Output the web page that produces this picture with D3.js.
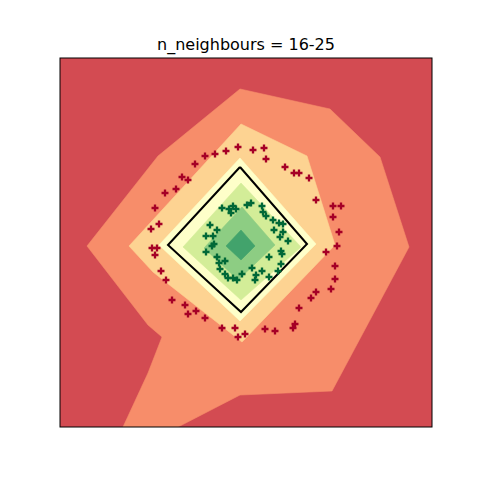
<!DOCTYPE html>
<html>
<head>
<meta charset="utf-8">
<script src="https://cdn.jsdelivr.net/npm/d3@7"></script>
<style>
  html, body { margin: 0; padding: 0; background: #ffffff; }
  svg { display: block; }
</style>
</head>
<body>
<div id="chart"></div>
<script>
// ---------------- data ----------------
const title = "n_neighbours = 16-25";

// filled contour levels (outer to inner), polygon vertices in data units
const levelColors = ["#d34b52", "#f78d6a", "#fdd392", "#feffc9", "#d3ed98", "#8dcd83", "#42a36c"];
const level1 = [[-1.53,-0.02],[-0.82,0.88],[0.00,1.55],[0.90,1.35],[1.40,0.87],[1.69,-0.03],
                [0.92,-1.47],[0.00,-1.51],[-0.62,-1.83],[-1.17,-1.83],[-0.92,-1.29],[-0.78,-0.93],[-0.92,-0.81]];
const level2 = [[-1.11,-0.02],[0.01,1.20],[0.67,0.88],[0.95,-0.01],[0.02,-0.98],[-0.87,-0.28]];
const level3 = [[0.00,0.86],[0.76,0.00],[0.00,-0.77],[-0.81,-0.01]];
const level4 = [[0.01,0.61],[0.61,-0.03],[0.01,-0.56],[-0.57,-0.03]];
const level5 = [[0.02,0.37],[0.35,-0.01],[-0.02,-0.36],[-0.36,-0.04]];
const level6 = [[0.01,0.14],[0.15,-0.02],[0.01,-0.16],[-0.14,-0.02]];
const levels = [level1, level2, level3, level4, level5, level6];

// decision boundary (black line)
const boundary = [[0.00,0.77],[0.67,0.00],[0.01,-0.68],[-0.72,-0.01],[0.00,0.77]];

// class 0 points (red)
const redX = [-0.02,-0.14,-0.25,-0.35,-0.45,-0.58,-0.52,-0.64,-0.75,-0.85,-0.81,-0.89,-0.88,-0.83,-0.85,-0.79,-0.74,-0.68,-0.55,-0.52,
              -0.44,-0.35,-0.18,-0.05,-0.02,0.05,0.25,0.35,0.53,0.55,0.59,0.71,0.76,0.91,0.95,0.95,0.86,0.97,0.99,0.93,
              0.93,1.01,0.76,0.69,0.54,0.59,0.45,0.26,0.24,0.13];
const redY = [0.97,0.93,0.90,0.88,0.80,0.67,0.64,0.55,0.51,0.36,0.20,0.15,-0.04,-0.04,-0.11,-0.27,-0.36,-0.56,-0.61,-0.70,
              -0.67,-0.74,-0.84,-0.84,-0.93,-0.90,-0.85,-0.87,-0.84,-0.80,-0.64,-0.54,-0.48,-0.45,-0.35,-0.22,-0.08,-0.02,0.12,0.27,
              0.38,0.38,0.44,0.66,0.71,0.71,0.77,0.85,0.96,0.94];

// class 1 points (green)
const greenX = [-0.18,-0.11,-0.07,-0.04,-0.09,0.07,0.11,0.22,0.23,0.26,0.33,0.39,0.43,0.34,0.43,0.40,0.48,0.41,0.42,0.29,
                0.41,0.38,0.29,0.22,0.16,0.15,0.12,0.02,-0.03,-0.07,-0.12,-0.15,-0.20,-0.21,-0.15,-0.23,-0.34,-0.28,-0.26,-0.34,
                -0.27,-0.23,-0.30];
const greenY = [0.36,0.35,0.38,0.35,0.31,0.39,0.41,0.38,0.32,0.28,0.24,0.21,0.20,0.14,0.12,0.07,0.03,-0.07,-0.10,-0.13,
                -0.20,-0.27,-0.33,-0.27,-0.31,-0.36,-0.24,-0.30,-0.36,-0.34,-0.34,-0.30,-0.25,-0.19,-0.17,-0.13,-0.08,-0.02,0.00,0.08,
                0.08,0.14,0.19];

const xDomain = [-1.8, 1.92];
const yDomain = [-1.83, 1.86];

// ---------------- drawing ----------------
const W = 480, H = 480;
const plot = {left: 60, right: 432, top: 58, bottom: 427};

const svg = d3.select("#chart").append("svg")
  .attr("width", W).attr("height", H)
  .style("font-family", "'DejaVu Sans', sans-serif");

svg.append("rect").attr("width", W).attr("height", H).attr("fill", "#ffffff");

const x = d3.scaleLinear().domain(xDomain).range([plot.left, plot.right]);
const y = d3.scaleLinear().domain(yDomain).range([plot.bottom, plot.top]);

svg.append("clipPath").attr("id", "clip")
  .append("rect")
  .attr("x", plot.left).attr("y", plot.top)
  .attr("width", plot.right - plot.left).attr("height", plot.bottom - plot.top);

const g = svg.append("g").attr("clip-path", "url(#clip)");

// background = lowest level
g.append("rect")
  .attr("x", x(xDomain[0])).attr("y", y(yDomain[1]))
  .attr("width", x(xDomain[1]) - x(xDomain[0]))
  .attr("height", y(yDomain[0]) - y(yDomain[1]))
  .attr("fill", levelColors[0]);

const line = d3.line().x(d => x(d[0])).y(d => y(d[1]));

levels.forEach((poly, i) => {
  g.append("path")
    .attr("d", line(poly) + "Z")
    .attr("fill", levelColors[i + 1])
    .attr("stroke", levelColors[i + 1])
    .attr("stroke-width", 0.6);
});

g.append("path")
  .attr("d", line(boundary))
  .attr("fill", "none")
  .attr("stroke", "#000000")
  .attr("stroke-width", 2);

const sym = d3.symbol().type(d3.symbolCross).size(27);

const red = redX.map((v, i) => [v, redY[i]]);
const green = greenX.map((v, i) => [v, greenY[i]]);

g.selectAll("path.red").data(red).enter().append("path")
  .attr("class", "red")
  .attr("d", sym)
  .attr("transform", d => `translate(${x(d[0])},${y(d[1])})`)
  .attr("fill", "#a50026");

g.selectAll("path.green").data(green).enter().append("path")
  .attr("class", "green")
  .attr("d", sym)
  .attr("transform", d => `translate(${x(d[0])},${y(d[1])})`)
  .attr("fill", "#006837");

// axes frame
svg.append("rect")
  .attr("x", plot.left).attr("y", plot.top)
  .attr("width", plot.right - plot.left).attr("height", plot.bottom - plot.top)
  .attr("fill", "none").attr("stroke", "#000000").attr("stroke-width", 1);

// title
svg.append("text")
  .attr("x", (plot.left + plot.right) / 2)
  .attr("y", 50)
  .attr("text-anchor", "middle")
  .attr("font-size", 16)
  .attr("fill", "#000000")
  .text(title);
</script>
</body>
</html>
